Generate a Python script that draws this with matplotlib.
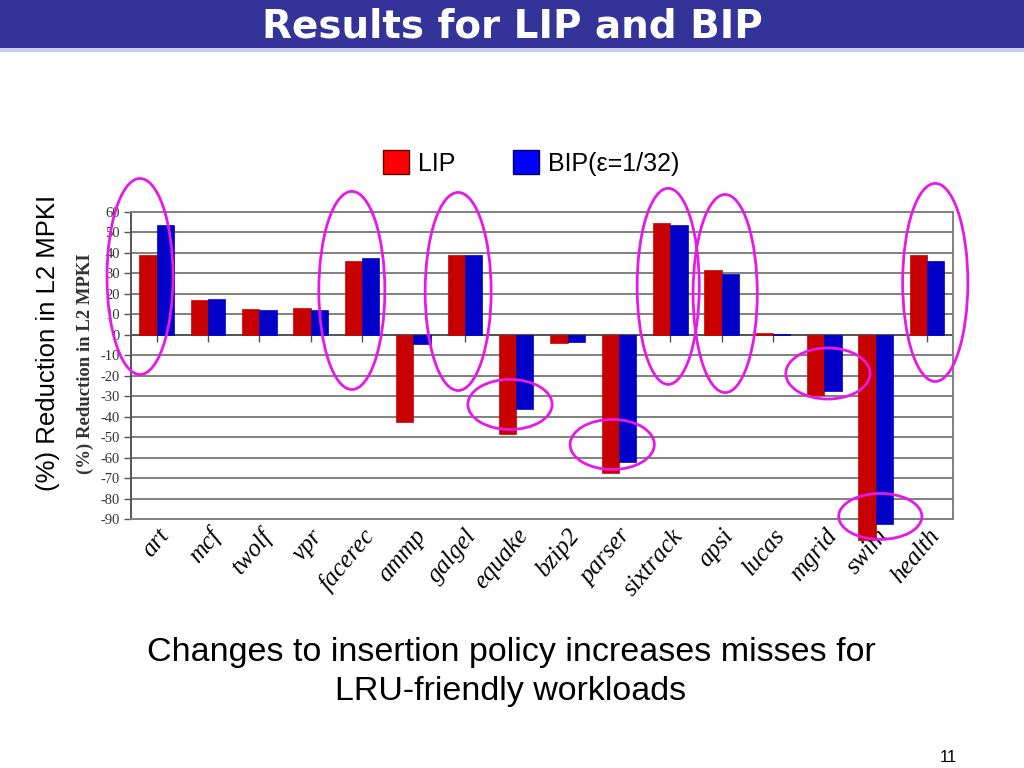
import matplotlib
matplotlib.use("Agg")
import matplotlib.pyplot as plt
from matplotlib.patches import Ellipse, Rectangle
import numpy as np

categories = ["art", "mcf", "twolf", "vpr", "facerec", "ammp", "galgel", "equake",
              "bzip2", "parser", "sixtrack", "apsi", "lucas", "mgrid", "swim", "health"]
lip = [39, 16.7, 12.7, 13, 36.2, -42.6, 39, -48.3, -3.9, -67.5, 54.4, 31.4, 0.7, -29.6, -100, 38.7]
bip = [53.7, 17.4, 11.9, 12, 37.4, -4.7, 39, -36.4, -3.5, -62, 53.7, 29.4, 0.3, -27.2, -92.3, 35.9]
yticks = list(range(-90, 61, 10))

# highlight ellipses: (center x in category units, center y value, width, height)
ell_cx = [-0.325, 3.80, 5.87, 6.88, 8.87, 9.96, 11.07, 13.07, 14.09, 15.16]
ell_cy = [28.4, 21.6, 21.1, -34.0, -53.5, 23.6, 20.1, -18.9, -88.6, 25.5]
ell_w = [1.285, 1.285, 1.285, 1.64, 1.64, 1.21, 1.25, 1.64, 1.62, 1.27]
ell_h = [95.6, 96.6, 96.6, 24.4, 24.4, 95.6, 96.6, 24.9, 22.4, 96.6]

fig = plt.figure(figsize=(10.24, 7.68), dpi=100)
fig.patch.set_facecolor("white")

# Title band
fig.patches.append(Rectangle((0, 1 - 48 / 768), 1, 48 / 768, transform=fig.transFigure,
                             facecolor="#333399", edgecolor="none", zorder=0))
fig.patches.append(Rectangle((0, 1 - 52 / 768), 1, 4 / 768, transform=fig.transFigure,
                             facecolor="#C8D0F0", edgecolor="none", zorder=0))
fig.text(0.5, 1 - 26 / 768, "Results for LIP and BIP", color="white", fontsize=28,
         fontweight="bold", ha="center", va="center", family="DejaVu Sans")

ax = fig.add_axes([131 / 1024, 1 - 519.3 / 768, (952.7 - 131) / 1024, (519.3 - 211.7) / 768])
x = np.arange(len(categories))
w = 0.337
ax.bar(x - w / 2, lip, w, color="#C80000", edgecolor="#C80000", linewidth=0.5, zorder=3,
       label="LIP", clip_on=False)
ax.bar(x + w / 2, bip, w, color="#0000C8", edgecolor="#0000C8", linewidth=0.5, zorder=3,
       label="BIP(\u03b5=1/32)", clip_on=False)
ax.set_xlim(-0.5, len(categories) - 0.5)
ax.set_ylim(-90, 60)
ax.set_yticks(yticks)
ax.set_yticklabels([str(t) for t in yticks], family="Liberation Serif", fontsize=10.5, color="#333333")
ax.yaxis.grid(True, color="#808080", linewidth=1.4, zorder=1)
ax.set_axisbelow(True)
ax.axhline(0, color="#555555", linewidth=1.4, zorder=2)
for s in ["top", "right"]:
    ax.spines[s].set_color("#808080")
    ax.spines[s].set_linewidth(1.4)
ax.spines["left"].set_color("#555555")
ax.spines["left"].set_linewidth(1.4)
ax.spines["bottom"].set_color("#808080")
ax.spines["bottom"].set_linewidth(1.4)
ax.tick_params(axis="y", length=5, width=1, color="#555555", pad=3)
ax.set_xticks(x)
ax.set_xticklabels(categories, rotation=50, ha="right", rotation_mode="anchor",
                   family="Liberation Serif", style="italic", fontsize=18)
ax.tick_params(axis="x", length=0, pad=4)

# small category ticks on zero line
sec = ax.secondary_xaxis(90 / 150)
sec.set_xticks(x)
sec.set_xticklabels([])
sec.spines["bottom"].set_visible(False)
sec.spines["top"].set_visible(False)
sec.tick_params(length=5, width=1, color="#555555", direction="in")

for cx, cy, ew, eh in zip(ell_cx, ell_cy, ell_w, ell_h):
    ax.add_patch(Ellipse((cx, cy), ew, eh, fill=False, edgecolor="#E619E6", linewidth=2.0,
                         clip_on=False, zorder=6))

# inner y-label from original chart
fig.text(85 / 1024, 1 - 364 / 768, "(%) Reduction in L2 MPKI", rotation=90, ha="center", va="center",
         family="Liberation Serif", fontweight="bold", fontsize=13.5, color="#333333")
# outer slide y-label
fig.text(48 / 1024, 1 - 343 / 768, "(%) Reduction in L2 MPKI", rotation=90, ha="center", va="center",
         family="Liberation Sans", fontsize=18.5, color="black")

handles = [Rectangle((0, 0), 1, 1, facecolor="#FF0000", edgecolor="#600000", linewidth=1),
           Rectangle((0, 0), 1, 1, facecolor="#0000FF", edgecolor="#000060", linewidth=1)]
leg = fig.legend(handles, ["LIP", "BIP(\u03b5=1/32)"], ncol=2, frameon=False, loc="center",
                 bbox_to_anchor=(531 / 1024, 1 - 163 / 768),
                 prop={"family": "Liberation Sans", "size": 18},
                 handlelength=1.05, handleheight=1.05, handletextpad=0.36, columnspacing=2.3)

fig.text(511 / 1024, 1 - 672 / 768, "Changes to insertion policy increases misses for\nLRU-friendly workloads",
         ha="center", va="center", family="Liberation Sans", fontsize=24.5, linespacing=1.3)
fig.text(948 / 1024, 1 - 758 / 768, "11", ha="center", va="center", family="Liberation Sans", fontsize=12)

fig.savefig("out.png", dpi=100)
